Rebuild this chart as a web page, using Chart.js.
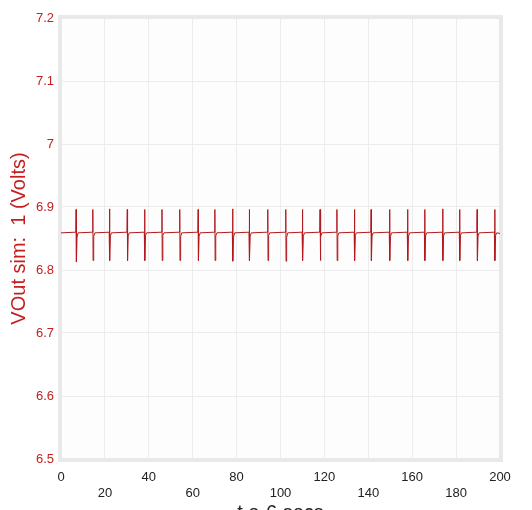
<!DOCTYPE html>
<html>
<head>
<meta charset="utf-8">
<script src="https://cdn.jsdelivr.net/npm/chart.js@4.4.1/dist/chart.umd.min.js"></script>
<style>
  html, body { margin: 0; padding: 0; background: #ffffff; }
  #wrap { width: 532px; height: 510px; position: relative; }
</style>
</head>
<body>
<div id="wrap"><canvas id="myChart"></canvas></div>
<script>
// time in e-6 secs
const tValues = [
    0,
    6.75, 6.9, 7.02, 7.3, 7.8,
    14.35, 14.5, 14.62, 14.9, 15.4,
    21.95, 22.1, 22.22, 22.5, 23.0,
    30.05, 30.2, 30.32, 30.6, 31.1,
    37.95, 38.1, 38.22, 38.5, 39.0,
    45.85, 46.0, 46.12, 46.4, 46.9,
    53.95, 54.1, 54.22, 54.5, 55.0,
    62.35, 62.5, 62.62, 62.9, 63.4,
    69.95, 70.1, 70.22, 70.5, 71.0,
    78.05, 78.2, 78.32, 78.6, 79.1,
    85.65, 85.8, 85.92, 86.2, 86.7,
    94.05, 94.2, 94.32, 94.6, 95.1,
    102.25, 102.4, 102.52, 102.8, 103.3,
    109.85, 110.0, 110.12, 110.4, 110.9,
    117.85, 118.0, 118.12, 118.4, 118.9,
    125.55, 125.7, 125.82, 126.1, 126.6,
    133.55, 133.7, 133.82, 134.1, 134.6,
    141.15, 141.3, 141.42, 141.7, 142.2,
    149.55, 149.7, 149.82, 150.1, 150.6,
    157.75, 157.9, 158.02, 158.3, 158.8,
    165.55, 165.7, 165.82, 166.1, 166.6,
    173.75, 173.9, 174.02, 174.3, 174.8,
    181.45, 181.6, 181.72, 182.0, 182.5,
    189.45, 189.6, 189.72, 190.0, 190.5,
    197.45, 197.6, 197.72, 198.0, 198.5,
    200
];

// VOut in volts
const vValues = [
    6.859,
    6.86, 6.896, 6.813, 6.852, 6.859,
    6.86, 6.896, 6.815, 6.853, 6.859,
    6.86, 6.897, 6.815, 6.854, 6.859,
    6.86, 6.896, 6.815, 6.854, 6.859,
    6.86, 6.896, 6.815, 6.855, 6.859,
    6.86, 6.896, 6.815, 6.855, 6.859,
    6.86, 6.896, 6.815, 6.853, 6.859,
    6.86, 6.896, 6.815, 6.853, 6.859,
    6.86, 6.896, 6.815, 6.854, 6.859,
    6.86, 6.897, 6.814, 6.852, 6.859,
    6.86, 6.896, 6.815, 6.854, 6.859,
    6.86, 6.896, 6.815, 6.855, 6.859,
    6.86, 6.896, 6.814, 6.852, 6.859,
    6.86, 6.896, 6.815, 6.853, 6.859,
    6.86, 6.896, 6.815, 6.853, 6.859,
    6.86, 6.896, 6.815, 6.854, 6.859,
    6.86, 6.896, 6.815, 6.855, 6.859,
    6.86, 6.896, 6.815, 6.854, 6.859,
    6.86, 6.896, 6.815, 6.853, 6.859,
    6.86, 6.896, 6.815, 6.853, 6.859,
    6.86, 6.896, 6.815, 6.854, 6.859,
    6.86, 6.897, 6.815, 6.854, 6.859,
    6.86, 6.896, 6.815, 6.855, 6.859,
    6.86, 6.896, 6.815, 6.854, 6.859,
    6.86, 6.896, 6.815, 6.855, 6.859,
    6.858
];

const xRange = [0, 200];
const yRange = [6.5, 7.2];
const xStep = 20;
const yStep = 0.1;

const yTitle = 'VOut sim:  1 (Volts)';
const xTitle = 't e-6 secs';

const points = tValues.map((t, i) => ({ x: t, y: vValues[i] }));

// plot background + thick light frame round the chart area
const frame = {
    id: 'frame',
    beforeDraw(chart) {
        const { ctx, chartArea: a } = chart;
        ctx.save();
        ctx.fillStyle = '#fdfdfd';
        ctx.fillRect(a.left, a.top, a.right - a.left, a.bottom - a.top);
        ctx.restore();
    },
    beforeDatasetsDraw(chart) {
        const { ctx, chartArea: a } = chart;
        ctx.save();
        ctx.strokeStyle = '#e9e9e9';
        ctx.lineWidth = 4;
        ctx.strokeRect(a.left - 1, a.top - 1, a.right - a.left + 2, a.bottom - a.top + 2);
        ctx.restore();
    }
};

const ctx = document.getElementById('myChart').getContext('2d');
const myChart = new Chart(ctx, {
    type: 'scatter',
    data: {
        datasets: [{
            label: 'VOut',
            data: points,
            showLine: true,
            borderColor: '#b3191c',
            backgroundColor: '#b3191c',
            borderWidth: 1,
            pointRadius: 0,
            tension: 0
        }]
    },
    options: {
        responsive: true,
        maintainAspectRatio: false,
        animation: false,
        layout: {
            padding: { left: 0, top: 18, right: 32, bottom: 0 }
        },
        plugins: {
            legend: { display: false },
            tooltip: { enabled: false }
        },
        scales: {
            x: {
                type: 'linear',
                min: xRange[0],
                max: xRange[1],
                afterFit: scale => { scale.height = 51; },
                grid: { color: '#ececec', drawTicks: false },
                border: { display: false },
                ticks: {
                    stepSize: xStep,
                    autoSkip: false,
                    maxRotation: 0,
                    padding: 11,
                    color: '#222222',
                    font: { family: 'Liberation Sans, Arial, sans-serif', size: 13 },
                    callback: v => (v % 40 === 0 ? [String(v), ''] : ['', String(v)])
                },
                title: {
                    display: true,
                    text: xTitle,
                    color: '#222222',
                    font: { family: 'Liberation Sans, Arial, sans-serif', size: 20 },
                    padding: { top: 0, bottom: -15 }
                }
            },
            y: {
                min: yRange[0],
                max: yRange[1],
                afterFit: scale => { scale.width = 61; },
                grid: { color: '#ececec', drawTicks: false },
                border: { display: false },
                ticks: {
                    stepSize: yStep,
                    padding: 7,
                    color: '#c41e1e',
                    font: { family: 'Liberation Sans, Arial, sans-serif', size: 13 },
                    callback: v => String(parseFloat(v.toFixed(1)))
                },
                title: {
                    display: true,
                    text: yTitle,
                    color: '#c41e1e',
                    font: { family: 'Liberation Sans, Arial, sans-serif', size: 20 },
                    padding: { top: 7, bottom: 0 }
                }
            }
        }
    },
    plugins: [frame]
});
</script>
</body>
</html>
